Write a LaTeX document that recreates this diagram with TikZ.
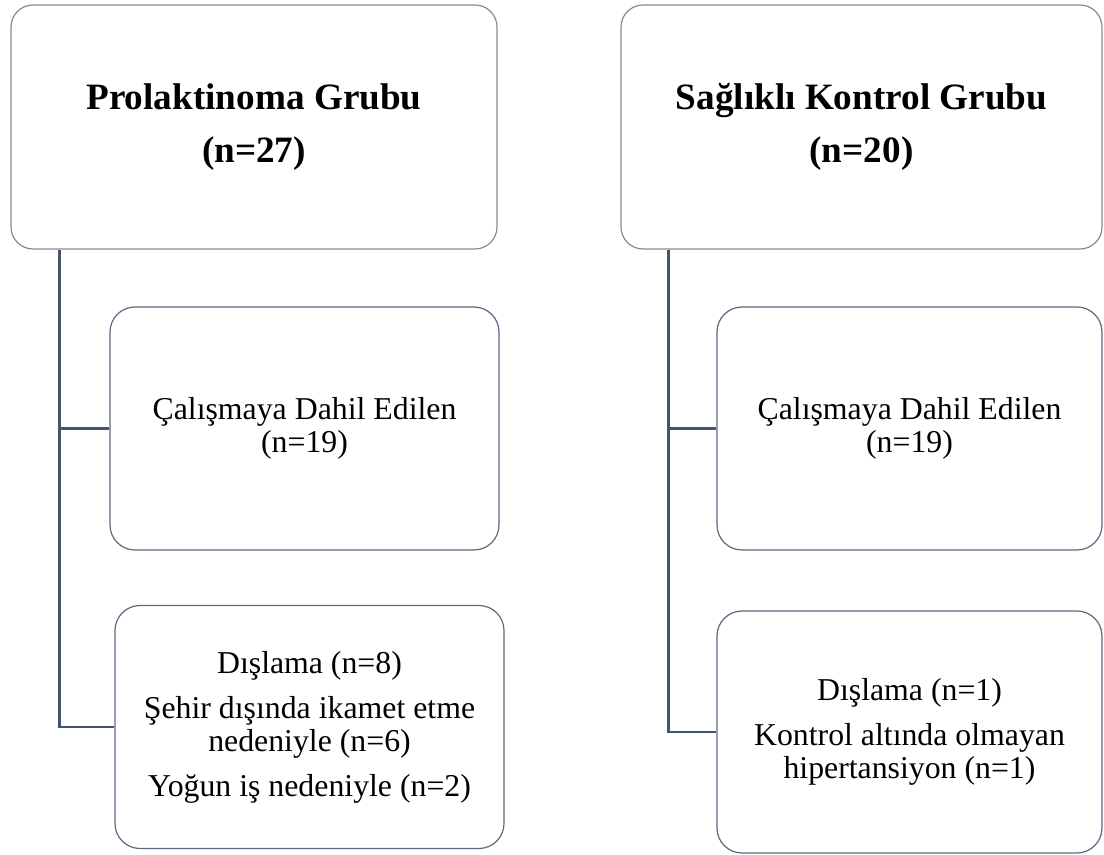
\documentclass[tikz,border=0pt]{standalone}
\usepackage{fontspec}
\setmainfont{Liberation Serif}
\definecolor{linkcol}{HTML}{44546A}
\definecolor{subcol}{HTML}{5A6A82}
\definecolor{groupcol}{HTML}{8A8A8A}

\begin{document}
\begin{tikzpicture}[
    x=0.5pt, y=-0.5pt,
    group/.style={rectangle, rounded corners=11pt, draw=groupcol, line width=0.6pt, fill=white, minimum width=243pt, minimum height=122pt, align=center, font=\fontsize{18.6}{26.5}\selectfont\bfseries},
    sub/.style={rectangle, rounded corners=12.5pt, draw=subcol, line width=0.6pt, fill=white, minimum width=194.5pt, minimum height=121.5pt, align=center, font=\fontsize{15.9}{16.5}\selectfont},
    link/.style={draw=linkcol, line width=1.2pt},
]
\useasboundingbox (0,0) rectangle (1104,855);
% PROLAKTINOMA
\node[group] (G1) at (254,127) {Prolaktinoma Grubu\\(n=27)};
\node[sub] (A1) at (304.5,428.5) {Çalışmaya Dahil Edilen\\(n=19)};
\node[sub] (A2) at (309.5,727) {Dışlama (n=8)\\[6pt]Şehir dışında ikamet etme\\nedeniyle (n=6)\\[6pt]Yoğun iş nedeniyle (n=2)};
\draw[link] ([xshift=24.5pt]G1.south west) |- (A1.west);
\draw[link] ([xshift=24.5pt]G1.south west) |- (A2.west);
% SAGLIKLI KONTROL
\node[group, minimum width=240.5pt] (G2) at (861.5,127) {Sağlıklı Kontrol Grubu\\(n=20)};
\node[sub, minimum width=192.5pt] (B1) at (909.5,428.5) {Çalışmaya Dahil Edilen\\(n=19)};
\node[sub, minimum width=192.5pt, minimum height=121pt] (B2) at (909.5,732) {Dışlama (n=1)\\[6pt]Kontrol altında olmayan\\hipertansiyon (n=1)};
\draw[link] ([xshift=24pt]G2.south west) |- (B1.west);
\draw[link] ([xshift=24pt]G2.south west) |- (B2.west);
\end{tikzpicture}
\end{document}
